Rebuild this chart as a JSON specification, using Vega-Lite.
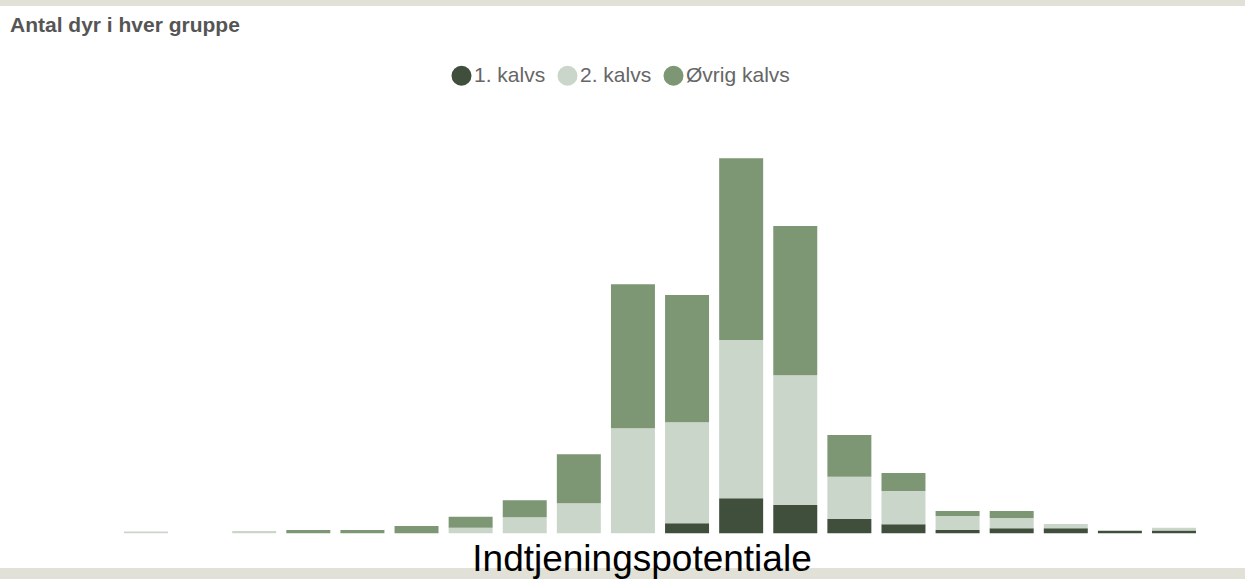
{
  "$schema": "https://vega.github.io/schema/vega-lite/v6.json",
  "width": 1245,
  "height": 562,
  "autosize": {"type": "none"},
  "padding": {"top": 6, "bottom": 11, "left": 0, "right": 0},
  "background": "#e1e1d7",
  "title": {
    "text": "Antal dyr i hver gruppe",
    "anchor": "start",
    "frame": "group",
    "orient": "top",
    "offset": -47,
    "dx": 10,
    "baseline": "alphabetic",
    "font": "Liberation Sans",
    "fontSize": 21,
    "fontWeight": "bold",
    "color": "#555555"
  },
  "data": {
    "values": [
      {"gruppe": 1, "kalvs": "2. kalvs", "antal": 0.7},
      {"gruppe": 2, "kalvs": "2. kalvs", "antal": 0},
      {"gruppe": 3, "kalvs": "2. kalvs", "antal": 0.9},
      {"gruppe": 4, "kalvs": "Øvrig kalvs", "antal": 1.3},
      {"gruppe": 5, "kalvs": "Øvrig kalvs", "antal": 1.3},
      {"gruppe": 6, "kalvs": "Øvrig kalvs", "antal": 2.9},
      {"gruppe": 7, "kalvs": "2. kalvs", "antal": 2.2},
      {"gruppe": 7, "kalvs": "Øvrig kalvs", "antal": 4.4},
      {"gruppe": 8, "kalvs": "2. kalvs", "antal": 6.4},
      {"gruppe": 8, "kalvs": "Øvrig kalvs", "antal": 6.8},
      {"gruppe": 9, "kalvs": "2. kalvs", "antal": 12},
      {"gruppe": 9, "kalvs": "Øvrig kalvs", "antal": 19.6},
      {"gruppe": 10, "kalvs": "2. kalvs", "antal": 42},
      {"gruppe": 10, "kalvs": "Øvrig kalvs", "antal": 57.6},
      {"gruppe": 11, "kalvs": "1. kalvs", "antal": 4},
      {"gruppe": 11, "kalvs": "2. kalvs", "antal": 40.4},
      {"gruppe": 11, "kalvs": "Øvrig kalvs", "antal": 50.9},
      {"gruppe": 12, "kalvs": "1. kalvs", "antal": 14},
      {"gruppe": 12, "kalvs": "2. kalvs", "antal": 63.3},
      {"gruppe": 12, "kalvs": "Øvrig kalvs", "antal": 72.7},
      {"gruppe": 13, "kalvs": "1. kalvs", "antal": 11.3},
      {"gruppe": 13, "kalvs": "2. kalvs", "antal": 51.9},
      {"gruppe": 13, "kalvs": "Øvrig kalvs", "antal": 59.7},
      {"gruppe": 14, "kalvs": "1. kalvs", "antal": 5.7},
      {"gruppe": 14, "kalvs": "2. kalvs", "antal": 16.9},
      {"gruppe": 14, "kalvs": "Øvrig kalvs", "antal": 16.7},
      {"gruppe": 15, "kalvs": "1. kalvs", "antal": 3.6},
      {"gruppe": 15, "kalvs": "2. kalvs", "antal": 13.3},
      {"gruppe": 15, "kalvs": "Øvrig kalvs", "antal": 7.2},
      {"gruppe": 16, "kalvs": "1. kalvs", "antal": 1.3},
      {"gruppe": 16, "kalvs": "2. kalvs", "antal": 5.6},
      {"gruppe": 16, "kalvs": "Øvrig kalvs", "antal": 2},
      {"gruppe": 17, "kalvs": "1. kalvs", "antal": 2},
      {"gruppe": 17, "kalvs": "2. kalvs", "antal": 4.1},
      {"gruppe": 17, "kalvs": "Øvrig kalvs", "antal": 2.8},
      {"gruppe": 18, "kalvs": "1. kalvs", "antal": 2},
      {"gruppe": 18, "kalvs": "2. kalvs", "antal": 1.7},
      {"gruppe": 19, "kalvs": "1. kalvs", "antal": 1},
      {"gruppe": 20, "kalvs": "1. kalvs", "antal": 1.1},
      {"gruppe": 20, "kalvs": "2. kalvs", "antal": 1.1}
    ]
  },
  "mark": {"type": "bar"},
  "encoding": {
    "x": {
      "field": "gruppe",
      "type": "ordinal",
      "scale": {"range": [124, 1196], "paddingInner": 0.187, "paddingOuter": 0, "round": false},
      "axis": {
        "labels": false,
        "ticks": false,
        "domain": false,
        "grid": false,
        "title": "Indtjeningspotentiale",
        "titleFont": "Liberation Sans",
        "titleFontSize": 37,
        "titleFontWeight": "normal",
        "titleColor": "#000000",
        "titleX": 641.5,
        "titleY": 2,
        "titleAlign": "center",
        "titleBaseline": "alphabetic"
      }
    },
    "y": {
      "field": "antal",
      "type": "quantitative",
      "stack": "zero",
      "scale": {"domain": [-13.9, 210.9], "nice": false, "zero": false},
      "axis": null
    },
    "order": {"field": "kalvs", "sort": "ascending"},
    "color": {
      "field": "kalvs",
      "type": "nominal",
      "scale": {
        "domain": ["1. kalvs", "2. kalvs", "Øvrig kalvs"],
        "range": ["#404e3c", "#cbd6ca", "#7d9775"]
      },
      "legend": {
        "orient": "none",
        "legendX": 451,
        "legendY": 59,
        "direction": "horizontal",
        "title": null,
        "symbolType": "circle",
        "symbolSize": 400,
        "symbolStrokeWidth": 0,
        "symbolOpacity": 1,
        "labelFont": "Liberation Sans",
        "labelFontSize": 21,
        "labelColor": "#666666",
        "labelOffset": 2,
        "columnPadding": 11,
        "padding": 0
      }
    }
  },
  "config": {
    "view": {"stroke": null, "fill": "white"}
  }
}
